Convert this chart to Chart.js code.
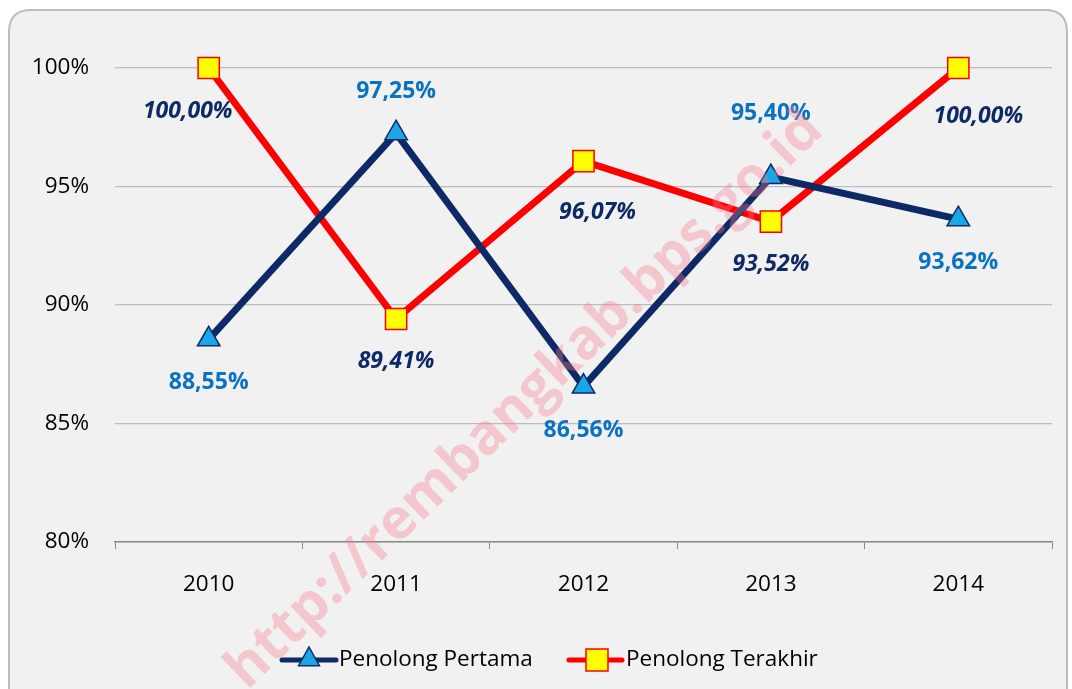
<!DOCTYPE html>
<html><head><meta charset="utf-8">
<script src="https://cdn.jsdelivr.net/npm/chart.js@4.4.0/dist/chart.umd.min.js"></script>
<style>html,body{margin:0;padding:0;background:#fff}#wrap{width:1072px;height:689px}</style>
</head><body><div id="wrap"><canvas id="c" width="1072" height="689"></canvas></div>
<script>
const categories = ['2010','2011','2012','2013','2014'];
const penolongPertama = [88.55, 97.25, 86.56, 95.40, 93.62];
const penolongTerakhir = [100.00, 89.41, 96.07, 93.52, 100.00];
const seriesNames = ['Penolong Pertama','Penolong Terakhir'];
const watermarkText = 'http://rembangkab.bps.go.id';

const fmt = v => v.toFixed(2).replace('.', ',') + '%';
const FONT = "'Open Sans', sans-serif";

// label placement per series/point: dx, dy from point
const pertamaOffsets = [[0,43],[0,-42],[0,44],[0,-64],[0,43]];
const terakhirOffsets = [[-21,43],[0,42],[14,51],[0,43],[20,48]];

function drawTriangle(ctx,x,y,r,fill,stroke){
  ctx.beginPath();
  ctx.moveTo(x,y-r);ctx.lineTo(x+r*0.95,y+r*0.7);ctx.lineTo(x-r*0.95,y+r*0.7);ctx.closePath();
  ctx.fillStyle=fill;ctx.fill();ctx.lineWidth=1.5;ctx.strokeStyle=stroke;ctx.stroke();
}

const bgPlugin = {
  id:'bg',
  beforeDraw(chart){
    const ctx=chart.ctx;ctx.save();
    const x=9,y=10,w=1058,h=700,r=22;
    ctx.beginPath();
    ctx.moveTo(x+r,y);ctx.lineTo(x+w-r,y);ctx.quadraticCurveTo(x+w,y,x+w,y+r);
    ctx.lineTo(x+w,y+h);ctx.lineTo(x,y+h);ctx.lineTo(x,y+r);ctx.quadraticCurveTo(x,y,x+r,y);ctx.closePath();
    ctx.fillStyle='#f1f1f1';ctx.fill();ctx.lineWidth=2;ctx.strokeStyle='#bdbdbd';ctx.stroke();
    ctx.restore();
  }
};

const labelPlugin = {
  id:'labels',
  afterDatasetsDraw(chart){
    const ctx=chart.ctx;ctx.save();
    ctx.textAlign='center';ctx.textBaseline='middle';
    const m0=chart.getDatasetMeta(0), m1=chart.getDatasetMeta(1);
    ctx.font="bold 23px "+FONT;ctx.fillStyle='#0a72c2';
    penolongPertama.forEach((v,i)=>{const p=m0.data[i];ctx.fillText(fmt(v),p.x+pertamaOffsets[i][0],p.y+pertamaOffsets[i][1]);});
    ctx.font="italic bold 23px "+FONT;ctx.fillStyle='#0d2a66';
    penolongTerakhir.forEach((v,i)=>{const p=m1.data[i];ctx.fillText(fmt(v),p.x+terakhirOffsets[i][0],p.y+terakhirOffsets[i][1]);});
    ctx.restore();
  },
  afterDraw(chart){
    const ctx=chart.ctx;ctx.save();
    // legend
    const ly=660;
    ctx.lineCap='round';
    ctx.strokeStyle='#0d2a66';ctx.lineWidth=5;
    ctx.beginPath();ctx.moveTo(282,ly);ctx.lineTo(336,ly);ctx.stroke();
    drawTriangle(ctx,309,ly-2,11,'#1ba6e8','#0d2a66');
    ctx.font="22.5px "+FONT;ctx.fillStyle='#000';ctx.textBaseline='middle';ctx.textAlign='left';
    ctx.fillText(seriesNames[0],339,ly);
    ctx.strokeStyle='#ff0000';ctx.lineWidth=5;
    ctx.beginPath();ctx.moveTo(569,ly);ctx.lineTo(622,ly);ctx.stroke();
    ctx.fillStyle='#ffff00';ctx.fillRect(586,ly-11,22,22);ctx.lineWidth=1.5;ctx.strokeStyle='#ff0000';ctx.strokeRect(586,ly-11,22,22);
    ctx.fillStyle='#000';ctx.fillText(seriesNames[1],626,ly);
    // watermark
    ctx.translate(525,400);ctx.rotate(-44*Math.PI/180);
    ctx.font="bold 56px "+FONT;ctx.textAlign='center';ctx.textBaseline='middle';
    ctx.fillStyle='rgba(248,120,140,0.35)';ctx.fillText(watermarkText,0,0);
    ctx.restore();
  }
};

new Chart(document.getElementById('c'),{
  type:'line',
  data:{labels:categories,datasets:[
    {label:seriesNames[0],data:penolongPertama.map(v=>v/100),borderColor:'#0d2a66',borderWidth:7,clip:false,
     pointStyle:'triangle',pointRadius:13,pointBackgroundColor:'#1ba6e8',pointBorderColor:'#0d2a66',pointBorderWidth:1.5,tension:0},
    {label:seriesNames[1],data:penolongTerakhir.map(v=>v/100),borderColor:'#ff0000',borderWidth:7,clip:false,
     pointStyle:'rect',pointRadius:15,pointBackgroundColor:'#ffff00',pointBorderColor:'#ff0000',pointBorderWidth:1.5,tension:0}
  ]},
  options:{
    responsive:false,animation:false,
    layout:{padding:{top:68,right:20,bottom:0,left:0}},
    plugins:{legend:{display:false},tooltip:{enabled:false}},
    scales:{
      x:{offset:true,
         grid:{display:true,drawOnChartArea:false,drawTicks:true,tickLength:7,color:'#8a8a8a',offset:true},
         border:{display:true,color:'#8a8a8a',width:1.5},
         ticks:{font:{family:FONT,size:22.5},color:'#000',padding:22},
         afterFit(s){s.height=147;}},
      y:{min:0.8,max:1.0,
         ticks:{stepSize:0.05,font:{family:FONT,size:22.5},color:'#000',padding:26,callback:v=>Math.round(v*100)+'%'},
         grid:{color:'#bdbdbd',lineWidth:1.2,drawTicks:false},
         border:{display:false},
         afterFit(s){s.width=115;}}
    }
  },
  plugins:[bgPlugin,labelPlugin]
});
</script></body></html>
